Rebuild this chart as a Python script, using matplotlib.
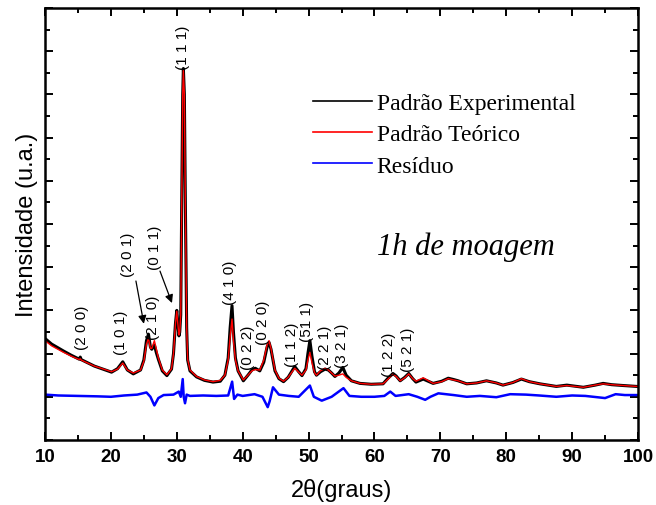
import matplotlib
matplotlib.use('Agg')
import matplotlib.pyplot as plt
from matplotlib.ticker import MultipleLocator

# experimental pattern (2theta, intensity)
experimental = [(10, 2.35), (11, 2.22), (12.8, 2.06), (14, 1.96), (15.2, 1.87), (15.35, 1.92),
	(15.5, 1.86), (17.5, 1.71), (20.1, 1.57), (21.0, 1.65), (21.8, 1.81), (22.5, 1.62),
	(23.4, 1.53), (24.5, 1.62), (25.0, 1.85), (25.4, 2.3), (25.7, 2.45), (26.0, 2.15),
	(26.2, 2.1), (26.6, 2.2), (26.9, 2.02), (27.2, 1.87), (27.8, 1.6), (28.5, 1.49),
	(29.2, 1.64), (29.5, 2.0), (29.8, 2.7), (30.0, 3.0), (30.15, 2.7), (30.33, 2.41),
	(30.45, 2.5), (30.6, 2.9), (30.75, 5.5), (30.9, 8.0), (31.0, 8.6), (31.15, 8.0),
	(31.3, 5.5), (31.5, 2.6), (31.65, 1.85), (32.0, 1.6), (33.0, 1.46), (34.2, 1.38),
	(35.5, 1.34), (36.6, 1.36), (37.3, 1.5), (37.8, 1.9), (38.1, 2.6), (38.38, 3.11),
	(38.6, 2.5), (38.9, 1.9), (39.3, 1.6), (40.1, 1.37), (40.8, 1.5), (41.4, 1.62),
	(41.9, 1.66), (42.6, 1.6), (43.2, 1.8), (43.7, 2.15), (44.0, 2.26), (44.3, 2.1),
	(44.9, 1.6), (45.5, 1.42), (46.2, 1.35), (46.9, 1.45), (47.9, 1.70), (48.5, 1.58),
	(49.0, 1.49), (49.6, 1.65), (49.9, 2.0), (50.2, 2.30), (50.5, 1.95), (50.9, 1.58),
	(51.2, 1.50), (51.8, 1.58), (52.5, 1.64), (53.0, 1.62), (53.5, 1.55), (54.0, 1.47),
	(54.6, 1.55), (55.2, 1.68), (55.7, 1.5), (56.5, 1.37), (57.8, 1.31), (59.5, 1.29),
	(61.3, 1.3), (62.0, 1.42), (62.8, 1.54), (63.3, 1.48), (63.9, 1.37), (64.6, 1.45),
	(65.2, 1.54), (65.8, 1.42), (66.3, 1.34), (67.4, 1.41), (68.9, 1.31), (70.2, 1.36),
	(71.2, 1.43), (72.0, 1.40), (72.7, 1.37), (74.0, 1.30), (75.5, 1.32), (77.0, 1.37),
	(78.5, 1.32), (79.5, 1.27), (81.0, 1.33), (82.3, 1.41), (83.5, 1.35), (85.1, 1.30),
	(87.6, 1.24), (89.2, 1.27), (91.7, 1.22), (93.5, 1.27), (94.7, 1.31), (96.0, 1.28),
	(97.8, 1.26), (99.8, 1.24), (100, 1.24)]

# calculated (Rietveld) pattern
theoretical = [(10, 2.3), (11, 2.18), (12.8, 2.03), (14, 1.94), (15.2, 1.86), (15.35, 1.88),
	(15.5, 1.85), (17.5, 1.71), (20.1, 1.58), (21.0, 1.64), (21.8, 1.78), (22.5, 1.62),
	(23.4, 1.55), (24.5, 1.62), (25.0, 1.82), (25.4, 2.22), (25.7, 2.35), (26.0, 2.12),
	(26.2, 2.12), (26.6, 2.3), (26.9, 2.1), (27.2, 1.9), (27.8, 1.62), (28.5, 1.51),
	(29.2, 1.65), (29.5, 2.0), (29.8, 2.7), (30.0, 2.98), (30.15, 2.7), (30.33, 2.43),
	(30.45, 2.5), (30.6, 2.9), (30.75, 5.5), (30.9, 8.0), (31.0, 8.55), (31.15, 8.0),
	(31.3, 5.5), (31.5, 2.6), (31.65, 1.87), (32.0, 1.62), (33.0, 1.47), (34.2, 1.39),
	(35.5, 1.35), (36.6, 1.38), (37.3, 1.5), (37.8, 1.85), (38.1, 2.4), (38.38, 2.80),
	(38.6, 2.3), (38.9, 1.85), (39.3, 1.6), (40.1, 1.39), (40.8, 1.5), (41.4, 1.6),
	(41.9, 1.63), (42.6, 1.62), (43.2, 1.85), (43.7, 2.2), (44.0, 2.3), (44.3, 2.12),
	(44.9, 1.62), (45.5, 1.43), (46.2, 1.36), (46.9, 1.45), (47.9, 1.66), (48.5, 1.57),
	(49.0, 1.5), (49.6, 1.62), (49.9, 1.85), (50.2, 2.03), (50.5, 1.8), (50.9, 1.56),
	(51.2, 1.50), (51.8, 1.6), (52.5, 1.66), (53.0, 1.62), (53.5, 1.55), (54.0, 1.48),
	(54.6, 1.5), (55.2, 1.53), (55.7, 1.45), (56.5, 1.37), (57.8, 1.31), (59.5, 1.29),
	(61.3, 1.3), (62.0, 1.4), (62.8, 1.52), (63.3, 1.47), (63.9, 1.37), (64.6, 1.44),
	(65.2, 1.53), (65.8, 1.42), (66.3, 1.36), (67.4, 1.44), (68.9, 1.31), (70.2, 1.35),
	(71.2, 1.42), (72.0, 1.39), (72.7, 1.37), (74.0, 1.30), (75.5, 1.32), (77.0, 1.37),
	(78.5, 1.32), (79.5, 1.27), (81.0, 1.33), (82.3, 1.42), (83.5, 1.35), (85.1, 1.30),
	(87.6, 1.24), (89.2, 1.26), (91.7, 1.22), (93.5, 1.27), (94.7, 1.30), (96.0, 1.28),
	(97.8, 1.26), (99.8, 1.24), (100, 1.24)]

# difference curve
residual = [(10, 1.05), (12, 1.03), (15, 1.02), (18, 1.01), (20, 1.0), (22, 1.03), (24, 1.05),
	(25.4, 1.10), (26.0, 1.0), (26.6, 0.80), (27.2, 0.97), (28, 1.04), (29.5, 1.05),
	(30.3, 1.12), (30.6, 1.0), (30.9, 1.41), (31.05, 1.0), (31.25, 0.85), (31.5, 1.05),
	(32, 1.02), (34, 1.03), (36, 1.02), (37.8, 1.03), (38.4, 1.35), (38.7, 0.95), (39.2, 1.05),
	(40, 1.02), (41.8, 1.06), (43.0, 1.0), (43.8, 0.76), (44.1, 0.9), (44.6, 1.22),
	(45.5, 1.05), (47, 1.02), (48.5, 1.0), (50.2, 1.26), (50.8, 1.0), (52.0, 0.91),
	(53.5, 1.0), (55.3, 1.20), (56.2, 1.02), (58, 1.0), (60, 1.0), (61.5, 1.02), (62.4, 1.12),
	(63.2, 1.02), (65.2, 1.06), (66.5, 1.0), (67.7, 0.93), (68.5, 1.0), (69.7, 1.08),
	(72, 1.04), (74, 1.0), (76, 1.02), (78.5, 0.99), (80.6, 1.06), (83, 1.05), (85, 1.03),
	(87.6, 1.0), (90, 1.03), (92, 1.02), (95.0, 0.97), (96.6, 1.06), (98, 1.04), (100, 1.04)]

# Miller indices: (text, 2theta, bottom of label)
hkl_labels = [('(2 0 0)', 15.6, 2.11), ('(1 0 1)', 21.5, 1.99), ('(2 0 1)', 22.6, 3.80),
	('(2 1 0)', 26.4, 2.34), ('(0 1 1)', 26.7, 3.96), ('(1 1 1)', 30.95, 8.59),
	('(4 1 0)', 38.1, 3.15), ('(0 2 2)', 40.8, 1.64), ('(0 2 0)', 43.1, 2.22),
	('(1 1 2)', 47.5, 1.71), ('(51 1)', 49.8, 2.29), ('(2 2 1)', 52.5, 1.64),
	('(3 2 1)', 55.1, 1.69), ('(1 2 2)', 62.2, 1.48), ('(5 2 1)', 65.1, 1.60)]
# arrows for the two labels that are moved away from their peaks
arrows = [((23.8, 3.68), (25.0, 2.69)), ((27.45, 3.91), (29.27, 3.17))]

plt.rcParams['font.family'] = ['Liberation Sans', 'DejaVu Sans']

fig = plt.figure(figsize=(6.56, 5.06), dpi=100)
ax = fig.add_axes([0.0686, 0.1285, 0.904, 0.8537])

ax.plot([p[0] for p in experimental], [p[1] for p in experimental], color='black', lw=2.2, label='Padrão Experimental')
ax.plot([p[0] for p in theoretical], [p[1] for p in theoretical], color='red', lw=1.0, label='Padrão Teórico')
ax.plot([p[0] for p in residual], [p[1] for p in residual], color='blue', lw=1.8, label='Resíduo')

for txt, xx, yy in hkl_labels:
	ax.text(xx, yy, txt, rotation=90, ha='center', va='bottom', fontsize=11)
for start, end in arrows:
	ax.annotate('', xy=end, xytext=start,
		arrowprops=dict(arrowstyle='-|>', color='black', lw=0.9, mutation_scale=12, shrinkA=0, shrinkB=0))

ax.text(73.9, 4.49, '1h de moagem', fontsize=22, style='italic', family='Liberation Serif', ha='center', va='center')

leg = ax.legend(loc='upper left', bbox_to_anchor=(0.452, 0.805), frameon=False, borderpad=0, borderaxespad=0,
	handlelength=2.5, handletextpad=0.2, labelspacing=0.42, prop={'family': 'Liberation Serif', 'size': 17})
for h in leg.get_lines():
	h.set_linewidth(1.2)

ax.set_xlim(10, 100)
ax.set_ylim(0, 10)
ax.xaxis.set_major_locator(MultipleLocator(10))
ax.xaxis.set_minor_locator(MultipleLocator(5))
ax.yaxis.set_major_locator(MultipleLocator(1))
ax.yaxis.set_minor_locator(MultipleLocator(0.5))
ax.tick_params(which='both', direction='in', top=True, right=True, width=1.4)
ax.tick_params(which='major', length=6)
ax.tick_params(which='minor', length=3.5)
ax.tick_params(axis='x', labelsize=13.5, pad=6)
ax.tick_params(axis='y', labelleft=False)
for lbl in ax.get_xticklabels():
	lbl.set_fontweight('bold')
for s in ax.spines.values():
	s.set_linewidth(1.8)

ax.set_xlabel('2θ(graus)', fontsize=17, labelpad=9)
ax.set_ylabel('Intensidade (u.a.)', fontsize=17, labelpad=2)

fig.savefig('out.png', dpi=100)
